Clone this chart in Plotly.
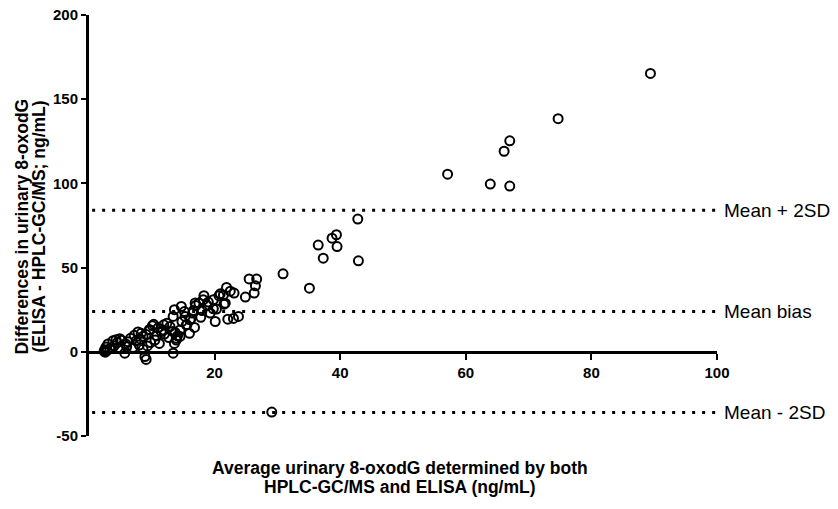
import plotly.graph_objects as go

# Bland-Altman data: average (x) and difference (y)
avg_vals = [
    89.4, 74.7, 67.0, 66.1, 57.1, 63.9, 67.0,
    42.8, 39.4, 38.7, 39.5, 36.5, 37.3, 42.9, 30.9, 35.1, 29.1,
    2.4, 2.5, 2.7, 3.0, 2.6, 3.3, 2.9,
    3.8, 4.3, 4.9, 4.5, 5.2, 5.7, 5.8, 6.2, 6.6, 6.0, 4.0, 5.0,
    7.2, 7.8, 8.3, 8.6, 9.1, 9.6, 10.1, 10.3,
    8.9, 9.1, 8.6, 9.3, 9.8, 8.0, 7.5, 7.0, 8.2,
    11.0, 11.9, 12.4, 12.9, 11.5, 10.8, 10.5, 12.0, 11.8, 9.7,
    13.4, 13.6, 13.9, 14.1, 13.7, 14.5, 13.3, 14.5, 13.9,
    13.4, 13.6, 14.7, 15.2, 15.3, 14.8, 15.5, 16.2, 16.1, 15.6,
    16.9, 16.6, 18.3, 18.2, 19.8, 20.3, 19.3, 20.1, 20.9, 21.4, 21.7,
    16.5, 17.0, 17.5, 18.8, 19.0,
    20.7, 21.5, 21.9, 23.1, 22.5, 22.1, 23.0, 23.8,
    24.9, 25.5, 26.7, 26.5, 26.3,
    16.8, 17.8, 19.8, 18.0, 16.0, 12.7, 11.2,
]
diff_vals = [
    165.3, 138.4, 125.3, 119.1, 105.5, 99.6, 98.4,
    78.8, 69.5, 67.5, 62.5, 63.4, 55.6, 54.0, 46.3, 37.8, -35.8,
    0.3, 1.2, 2.8, 4.6, -0.2, 1.8, 0.8,
    6.5, 7.2, 7.8, 5.5, 6.8, -0.8, 4.8, 6.0, 8.0, 3.0, 3.5, 2.0,
    9.8, 11.8, 11.0, 9.2, 10.3, 13.2, 15.5, 16.3,
    -2.8, -4.5, 1.5, 3.5, 5.5, 4.0, 6.5, 2.5, 7.5,
    14.2, 16.0, 17.0, 15.0, 12.0, 9.5, 7.0, 10.5, 13.0, 13.0,
    -0.8, 5.0, 7.0, 9.5, 11.5, 13.0, 12.1, 9.1, 8.1,
    21.0, 25.0, 26.9, 23.9, 21.0, 18.0, 16.0, 19.5, 19.0, 16.0,
    29.0, 24.5, 33.3, 30.9, 30.9, 25.4, 23.0, 18.0, 34.4, 33.8, 28.9,
    23.0, 27.5, 29.0, 27.5, 29.5,
    33.3, 28.3, 38.2, 34.9, 36.0, 19.4, 19.8, 21.0,
    32.5, 43.3, 43.2, 39.2, 34.9,
    14.5, 20.5, 25.5, 24.5, 11.0, 8.5, 5.0,
]

ref_names = ["Mean + 2SD", "Mean bias", "Mean - 2SD"]
ref_values = [84, 24, -36]

x_ticks = [20, 40, 60, 80, 100]
y_ticks = [-50, 0, 50, 100, 150, 200]

FONT = "Liberation Sans, Arial, sans-serif"

fig = go.Figure()

fig.add_trace(go.Scatter(
    x=avg_vals, y=diff_vals, mode="markers",
    marker=dict(symbol="circle-open", size=9, color="black",
                line=dict(width=2, color="black")),
    showlegend=False, cliponaxis=False,
))

for name, val in zip(ref_names, ref_values):
    fig.add_shape(type="line", xref="x", yref="y", x0=0.5, x1=100, y0=val, y1=val,
                  line=dict(color="black", width=3, dash="3px,7px"), layer="below")
    fig.add_annotation(xref="paper", yref="y", x=1.008, y=val, text=name,
                       showarrow=False, xanchor="left", yanchor="middle",
                       font=dict(family=FONT, size=19, color="black"))

# axis titles
fig.add_annotation(xref="paper", yref="paper", x=-0.107, y=0.497, textangle=-90,
                   text="<b>Differences in urinary 8-oxodG</b>", showarrow=False,
                   xanchor="center", yanchor="middle",
                   font=dict(family=FONT, size=17.5, color="black"))
fig.add_annotation(xref="paper", yref="paper", x=-0.08, y=0.497, textangle=-90,
                   text="<b>(ELISA - HPLC-GC/MS; ng/mL)</b>", showarrow=False,
                   xanchor="center", yanchor="middle",
                   font=dict(family=FONT, size=17.5, color="black"))
fig.add_annotation(xref="paper", yref="paper", x=0.495, y=-0.076,
                   text="<b>Average urinary 8-oxodG determined by both</b>", showarrow=False,
                   xanchor="center", yanchor="middle",
                   font=dict(family=FONT, size=17.5, color="black"))
fig.add_annotation(xref="paper", yref="paper", x=0.495, y=-0.121,
                   text="<b>HPLC-GC/MS and ELISA (ng/mL)</b>", showarrow=False,
                   xanchor="center", yanchor="middle",
                   font=dict(family=FONT, size=17.5, color="black"))

fig.update_layout(
    width=838, height=509,
    margin=dict(l=89, r=121, t=15, b=73, autoexpand=False),
    paper_bgcolor="white", plot_bgcolor="white",
    xaxis=dict(range=[0, 100], tickvals=x_ticks,
               ticktext=["<b>%d</b>" % v for v in x_ticks],
               showgrid=False, zeroline=False, showline=True, linecolor="black",
               linewidth=3, ticks="outside", ticklen=6, tickwidth=2, tickcolor="black",
               anchor="free", position=0.2, ticklabeloverflow="allow", automargin=False,
               tickfont=dict(family=FONT, size=15, color="black")),
    yaxis=dict(range=[-50, 200], tickvals=y_ticks,
               ticktext=["<b>%d</b>" % v for v in y_ticks],
               showgrid=False, zeroline=False, showline=True, linecolor="black",
               linewidth=3, ticks="outside", ticklen=5, tickwidth=2, tickcolor="black",
               ticklabeloverflow="allow", automargin=False,
               tickfont=dict(family=FONT, size=15, color="black")),
)

fig.write_html("out.html", config={"displayModeBar": False},
               post_script="document.body.style.margin='0';document.body.style.overflow='hidden';")
